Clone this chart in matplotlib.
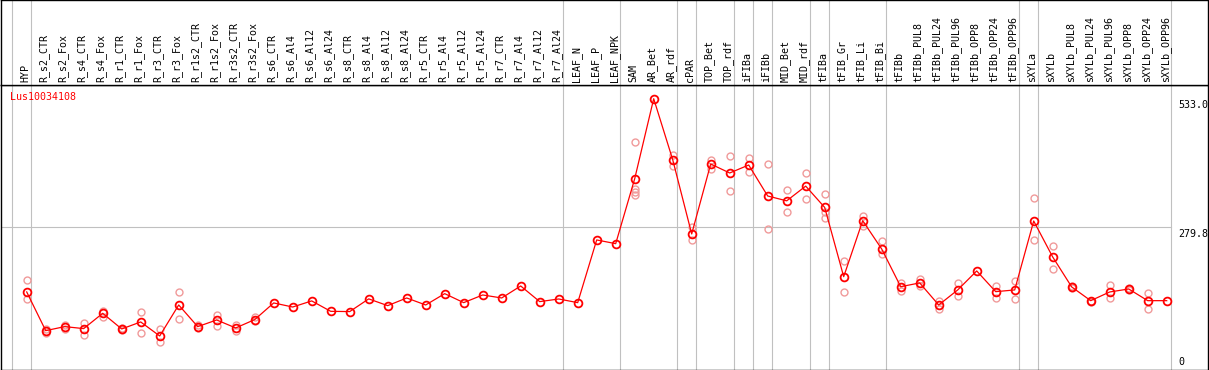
import matplotlib.pyplot as plt

# probe id and tissue / condition names
gene_id = "Lus10034108"
samples = [
    "HYP",
    "R_s2_CTR", "R_s2_Fox", "R_s4_CTR", "R_s4_Fox", "R_r1_CTR", "R_r1_Fox",
    "R_r3_CTR", "R_r3_Fox", "R_r1s2_CTR", "R_r1s2_Fox", "R_r3s2_CTR", "R_r3s2_Fox",
    "R_s6_CTR", "R_s6_Al4", "R_s6_Al12", "R_s6_Al24",
    "R_s8_CTR", "R_s8_Al4", "R_s8_Al12", "R_s8_Al24",
    "R_r5_CTR", "R_r5_Al4", "R_r5_Al12", "R_r5_Al24",
    "R_r7_CTR", "R_r7_Al4", "R_r7_Al12", "R_r7_Al24",
    "LEAF_N", "LEAF_P", "LEAF_NPK",
    "SAM", "AR_Bet", "AR_rdf",
    "cPAR",
    "TOP_Bet", "TOP_rdf",
    "iFIBa", "iFIBb",
    "MID_Bet", "MID_rdf",
    "tFIBa",
    "tFIB_Gr", "tFIB_Li", "tFIB_Bi",
    "tFIBb", "tFIBb_PUL8", "tFIBb_PUL24", "tFIBb_PUL96",
    "tFIBb_OPP8", "tFIBb_OPP24", "tFIBb_OPP96",
    "sXYLa",
    "sXYLb", "sXYLb_PUL8", "sXYLb_PUL24", "sXYLb_PUL96",
    "sXYLb_OPP8", "sXYLb_OPP24", "sXYLb_OPP96",
]

# first sample index of each group (separators)
group_starts = [0, 1, 29, 32, 35, 36, 38, 39, 40, 42, 43, 46, 53, 54]

# mean expression
means = [
    152.7,
    76.5, 84.4, 80.5, 110.6, 79.8, 93.6, 66, 127, 84.4, 97.5, 81.8, 98.2,
    131, 123, 135, 114.5, 114, 139, 125.7, 140.8,
    127, 149.3, 131.6, 146.7, 140.8, 164.4, 133.6, 138.8,
    131.6, 255, 247.7,
    375.5, 533.0, 413,
    266.8,
    404.5, 386.8,
    402.5, 341.5,
    332, 361,
    319,
    182.7, 292.9, 237.2,
    163, 170.4, 127, 156.6, 194, 153.2, 156.6,
    292.3,
    221.5, 162.5, 135.5, 152.6, 158.5, 135.5, 135.5,
]

# individual replicates
replicates = [
    [176, 139.5],
    [80.5, 71], [88, 80], [92, 67], [114.5, 104], [82, 77], [113, 72.6],
    [79, 54], [152.7, 99.5], [87, 81], [106.6, 85.8], [88.3, 75], [103.5, 96],
    [], [], [], [], [], [], [], [],
    [], [], [], [], [], [], [], [],
    [], [], [],
    [447.7, 356, 350, 344], [], [422.8, 401],
    [281, 255],
    [413, 394.6], [420, 351.4],
    [416, 388], [404.5, 276.6],
    [353.3, 310], [386.8, 336],
    [345.5, 298.8, 311],
    [212.9, 153], [302.7, 283], [253, 227.4],
    [170.4, 153.8], [178.8, 163.7], [134.2, 119.8], [169.6, 144.8],
    [], [164.4, 140], [174.3, 138.9],
    [337.5, 255],
    [243, 198], [164, 160], [133, 134], [166.4, 140], [161, 156],
    [150.7, 119.2], [],
]

y_max_label = 533.0
y_mid_label = 279.8

W, H = 1209, 370
fig = plt.figure(figsize=(W / 100, H / 100), dpi=100)

xlim = ((1 - 26.7) / 19, (1208 - 26.7) / 19)
ax = fig.add_axes([1 / W, 0.5 / H, 1207 / W, 284.5 / H])
hdr = fig.add_axes([1 / W, 285 / H, 1207 / W, 85 / H])

x = list(range(len(samples)))
grid_c = "#c0c0c0"
seps = [g - 0.8 for g in group_starts] + [len(samples) - 0.8]

for a in (ax, hdr):
    a.set_xlim(*xlim)
    a.set_xticks([])
    a.set_yticks([])
    for s in a.spines.values():
        s.set_color("black")
        s.set_linewidth(1.0)
    for sx in seps:
        a.axvline(sx, color=grid_c, lw=0.8, zorder=0)

ax.set_ylim(0, 560)
hdr.set_ylim(0, 1)

ax.plot([xlim[0], seps[-1]], [y_mid_label, y_mid_label], color=grid_c, lw=0.8, zorder=0)

# replicates
rx, ry = [], []
for i, reps in enumerate(replicates):
    for v in reps:
        rx.append(i)
        ry.append(v)
ax.plot(rx, ry, "o", ms=5.0, mfc="none", mec="#f09a9a", mew=1.0, zorder=2)

ax.plot(x, means, "-", color="red", lw=0.9, zorder=3)
ax.plot(x, means, "o", ms=5.6, mfc="none", mec="red", mew=1.3, zorder=4)

mono = "DejaVu Sans Mono"
ax.text((10 - 26.7) / 19, 536, gene_id, color="red", fontsize=7.2,
        family=mono, ha="left", va="center")

rx_lab = (1178 - 26.7) / 19
ax.text(rx_lab, y_max_label - 3, f"{y_max_label:.1f}", fontsize=7.2, family=mono,
        ha="left", va="top")
ax.text(rx_lab, y_mid_label - 3, f"{y_mid_label:.1f}", fontsize=7.2, family=mono,
        ha="left", va="top")
ax.text(rx_lab, 4, "0", fontsize=7.2, family=mono, ha="left", va="bottom")

for i, name in enumerate(samples):
    hdr.text(i - 0.08, 0.03, name, rotation=90, fontsize=7.2, family=mono,
             ha="center", va="bottom")

fig.savefig("out.png", dpi=100)
